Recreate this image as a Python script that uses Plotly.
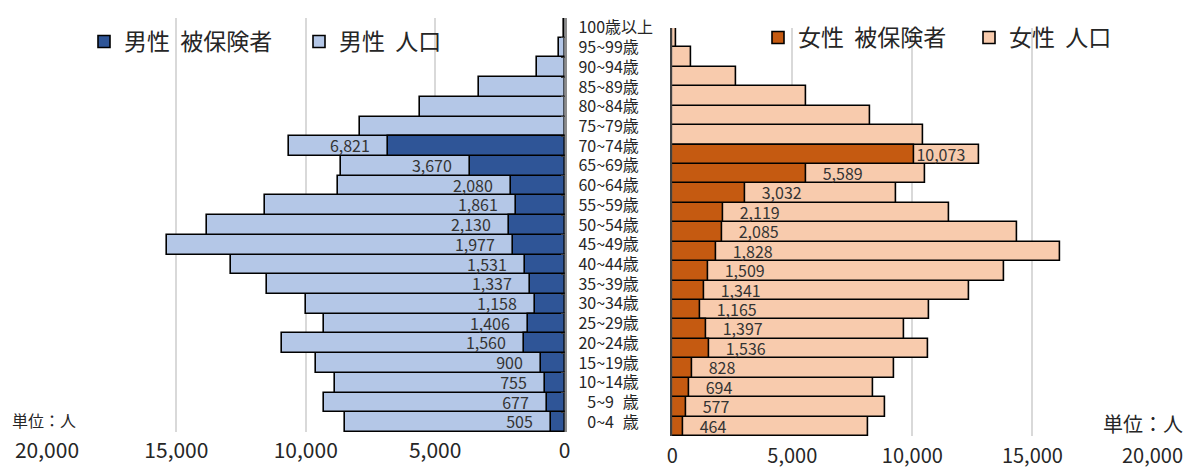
import plotly.graph_objects as go

FONT = "Noto Sans CJK JP"

# categories bottom -> top
age_labels = ["\u20070~4\u2007歳", "\u20075~9\u2007歳", "10~14歳", "15~19歳", "20~24歳", "25~29歳",
              "30~34歳", "35~39歳", "40~44歳", "45~49歳", "50~54歳", "55~59歳", "60~64歳",
              "65~69歳", "70~74歳", "75~79歳", "80~84歳", "85~89歳", "90~94歳", "95~99歳", "100歳以上"]

male_population = [8500, 9280, 8870, 9610, 10910, 9280, 9980, 11490, 12870, 15350, 13830,
                   11560, 8740, 8620, 10650, 7910, 5600, 3290, 1060, 230, 20]
male_insured = [505, 677, 755, 900, 1560, 1406, 1158, 1337, 1531, 1977, 2130,
                1861, 2080, 3670, 6821, None, None, None, None, None, None]

female_population = [8160, 8880, 8350, 9250, 10650, 9640, 10700, 12380, 13830, 16170, 14350,
                     11530, 9340, 10550, 12790, 10460, 8240, 5570, 2680, 780, 150]
female_insured = [464, 577, 694, 828, 1536, 1397, 1165, 1341, 1509, 1828, 2085,
                  2119, 3032, 5589, 10073, None, None, None, None, None, None]

x_ticks = [0, 5000, 10000, 15000, 20000]

PAD = "\u00a0" * 4
male_text = [("" if v is None else f"{v:,}" + PAD) for v in male_insured]
female_text = []
for v in female_insured:
    if v is None:
        female_text.append("")
    elif v >= 10000:
        female_text.append(f"{v:,}")
    else:
        female_text.append(PAD + f"{v:,}")

W, H = 1193, 468
def px(x):
    return x / W
def py(y):
    return (H - y) / H

fig = go.Figure()
line = dict(color="#000000", width=1.6)
label_font = dict(size=16, color="#333333", family=FONT)

fig.add_trace(go.Bar(y=age_labels, x=male_population, orientation="h", name="男性\u00a0\u00a0人口",
                     marker=dict(color="#B4C7E7", line=line), xaxis="x", yaxis="y",
                     legend="legend", legendrank=2))
fig.add_trace(go.Bar(y=age_labels, x=male_insured, orientation="h", name="男性\u00a0\u00a0被保険者",
                     marker=dict(color="#2F5597", line=line), xaxis="x", yaxis="y",
                     text=male_text, textposition="outside", cliponaxis=False,
                     constraintext="none", textfont=label_font,
                     legend="legend", legendrank=1))
fig.add_trace(go.Bar(y=age_labels, x=female_population, orientation="h", name="女性\u00a0\u00a0人口",
                     marker=dict(color="#F8CBAD", line=line), xaxis="x2", yaxis="y2",
                     legend="legend2", legendrank=2))
fig.add_trace(go.Bar(y=age_labels, x=female_insured, orientation="h", name="女性\u00a0\u00a0被保険者",
                     marker=dict(color="#C55A11", line=line), xaxis="x2", yaxis="y2",
                     text=female_text, textposition="outside", cliponaxis=False,
                     constraintext="none", textfont=label_font,
                     legend="legend2", legendrank=1))

axis_common = dict(tickvals=x_ticks, tickformat=",", showgrid=True, gridcolor="#D9D9D9",
                   gridwidth=1.5, zeroline=False, showline=False, ticks="", fixedrange=True)

fig.update_layout(
    width=W, height=H, autosize=False,
    margin=dict(l=0, r=0, t=0, b=0, pad=0, autoexpand=False),
    paper_bgcolor="white", plot_bgcolor="white",
    barmode="overlay", bargap=0,
    font=dict(family=FONT, color="#262626"),
    xaxis=dict(domain=[px(47), px(564.5)], range=[20000, 0], anchor="y",
               ticklabelstandoff=4, automargin=False,
               tickfont=dict(size=21, color="#262626", family=FONT), **axis_common),
    yaxis=dict(domain=[py(432), py(18)], anchor="x", side="right",
               categoryorder="array", categoryarray=age_labels,
               range=[-0.5, 20.5], automargin=False,
               showline=True, linecolor="#8C8C8C", linewidth=1.5,
               ticks="inside", ticklen=4, tickcolor="#404040", tickson="boundaries",
               ticklabelstandoff=9,
               tickfont=dict(size=16, color="#262626", family=FONT), showgrid=False),
    xaxis2=dict(domain=[px(672.2), px(1152.5)], range=[0, 20000], anchor="y2",
                ticklabelstandoff=6, automargin=False,
                tickfont=dict(size=20, color="#262626", family=FONT), **axis_common),
    yaxis2=dict(domain=[py(436), py(28)], anchor="x2",
                categoryorder="array", categoryarray=age_labels,
                range=[-0.5, 20.5], automargin=False,
                showline=True, linecolor="#404040", linewidth=1.5,
                showticklabels=False, ticks="", showgrid=False),
    legend=dict(orientation="h", x=px(84), y=py(20), xanchor="left", yanchor="top",
                bgcolor="rgba(0,0,0,0)", font=dict(size=23, family=FONT, color="#262626"),
                entrywidth=170, traceorder="normal"),
    legend2=dict(orientation="h", x=px(758), y=py(16), xanchor="left", yanchor="top",
                 bgcolor="rgba(0,0,0,0)", font=dict(size=23, family=FONT, color="#262626"),
                 entrywidth=166, traceorder="normal"),
    showlegend=True,
    annotations=[
        dict(text="単位：人", x=px(10), y=py(420), xref="paper", yref="paper",
             xanchor="left", yanchor="middle", showarrow=False,
             font=dict(size=16, family=FONT, color="#262626")),
        dict(text="単位：人", x=px(1185), y=py(423), xref="paper", yref="paper",
             xanchor="right", yanchor="middle", showarrow=False,
             font=dict(size=20, family=FONT, color="#262626")),
    ],
)

fig.write_html("out.html", config={"displayModeBar": False},
               post_script="document.body.style.margin='0';")
